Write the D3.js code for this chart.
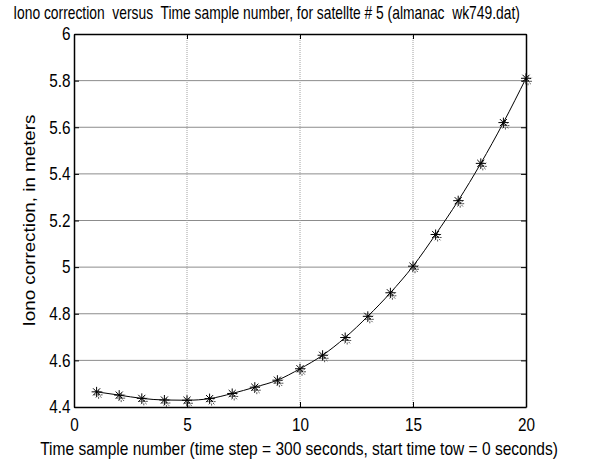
<!DOCTYPE html>
<html>
<head>
<meta charset="utf-8">
<script src="https://cdn.jsdelivr.net/npm/d3@7"></script>
<style>
  body { margin: 0; background: #fff; }
  svg { display: block; }
  text { font-family: "Liberation Sans", Arial, sans-serif; fill: #000; white-space: pre; }
</style>
</head>
<body>
<svg width="592" height="463"></svg>
<script>
const sampleNumber = [1, 2, 3, 4, 5, 6, 7, 8, 9, 10, 11, 12, 13, 14, 15, 16, 17, 18, 19, 20];
const ionoCorrection = [4.465, 4.451, 4.437, 4.430, 4.429, 4.436, 4.458, 4.485, 4.515, 4.564,
                        4.622, 4.698, 4.789, 4.890, 5.004, 5.140, 5.285, 5.445, 5.620, 5.810];
const xTicks = [0, 5, 10, 15, 20];
const yTicks = [4.4, 4.6, 4.8, 5, 5.2, 5.4, 5.6, 5.8, 6];

const svg = d3.select("svg"),
      margin = {top: 34, right: 66, bottom: 56, left: 74},
      width = +svg.attr("width") - margin.left - margin.right,
      height = +svg.attr("height") - margin.top - margin.bottom;

const g = svg.append("g").attr("transform", `translate(${margin.left},${margin.top})`);

const x = d3.scaleLinear().domain([0, 20]).range([0, width]);
const y = d3.scaleLinear().domain([4.4, 6]).range([height, 0]);

const data = sampleNumber.map((s, i) => ({s, v: ionoCorrection[i]}));

// grid
g.selectAll(".hgrid")
  .data(yTicks.slice(1, -1))
  .join("line")
    .attr("x1", 0).attr("x2", width)
    .attr("y1", d => y(d)).attr("y2", d => y(d))
    .attr("stroke", "#8c8c8c").attr("stroke-width", 1);

g.selectAll(".vgrid")
  .data(xTicks.slice(1, -1))
  .join("line")
    .attr("x1", d => x(d)).attr("x2", d => x(d))
    .attr("y1", 0).attr("y2", height)
    .attr("stroke", "#a0a0a0").attr("stroke-width", 1)
    .attr("stroke-dasharray", "1,1");

// axes, ticks pointing inward on all sides
const fmt = d => String(+d.toFixed(1));

g.append("g")
  .attr("transform", `translate(0,${height})`)
  .call(d3.axisBottom(x).tickValues(xTicks).tickSizeInner(-5).tickSizeOuter(0).tickPadding(11))
  .call(a => a.selectAll("text").style("font-size", "18px").attr("transform", "scale(0.85,1)"));

g.append("g")
  .call(d3.axisLeft(y).tickValues(yTicks).tickFormat(fmt).tickSizeInner(-5).tickSizeOuter(0).tickPadding(4))
  .call(a => a.selectAll("text").style("font-size", "18px").attr("transform", "scale(0.85,1)"));

g.append("g")
  .call(d3.axisTop(x).tickValues(xTicks).tickSizeInner(-5).tickSizeOuter(0).tickFormat(""));

g.append("g")
  .attr("transform", `translate(${width},0)`)
  .call(d3.axisRight(y).tickValues(yTicks).tickSizeInner(-5).tickSizeOuter(0).tickFormat(""));

g.selectAll(".domain").attr("stroke", "#000").attr("stroke-width", 1.5);
g.selectAll(".tick line").attr("stroke", "#000");

// line
g.append("path")
  .datum(data)
  .attr("fill", "none")
  .attr("stroke", "#000")
  .attr("stroke-width", 1)
  .attr("d", d3.line().x(d => x(d.s)).y(d => y(d.v)).curve(d3.curveMonotoneX));

// asterisk markers (with the faint smeared copy seen in the original)
const star = r => {
  const p = d3.path();
  for (let k = 0; k < 4; k++) {
    const a = k * Math.PI / 4;
    p.moveTo(-r * Math.cos(a), -r * Math.sin(a));
    p.lineTo(r * Math.cos(a), r * Math.sin(a));
  }
  return p.toString();
};

const marks = g.selectAll(".mark")
  .data(data)
  .join("g")
    .attr("class", "mark")
    .attr("transform", d => `translate(${x(d.s)},${y(d.v)})`);

marks.append("path")
  .attr("transform", "translate(2,3)")
  .attr("d", star(5))
  .attr("fill", "none")
  .attr("stroke", "#555")
  .attr("stroke-width", 1)
  .attr("stroke-dasharray", "2,1.5");

marks.append("path")
  .attr("d", star(5))
  .attr("fill", "none")
  .attr("stroke", "#000")
  .attr("stroke-width", 1);

// labels, squeezed horizontally to the reference widths
function squeezed(px, py, w, size, str, rotate) {
  const t = svg.append("text").style("font-size", size + "px").text(str);
  const k = w / t.node().getComputedTextLength();
  t.attr("text-anchor", "middle")
   .attr("transform", `translate(${px},${py})${rotate ? " rotate(-90)" : ""} scale(${k},1)`);
  return t;
}

squeezed(266.5, 18.5, 507, 18, "Iono correction  versus  Time sample number, for satellte # 5 (almanac  wk749.dat)");
squeezed(299, 455, 518, 18, "Time sample number (time step = 300 seconds, start time tow = 0 seconds)");
squeezed(35, margin.top + height / 2, 212, 17, "Iono correction, in meters", true);
</script>
</body>
</html>
